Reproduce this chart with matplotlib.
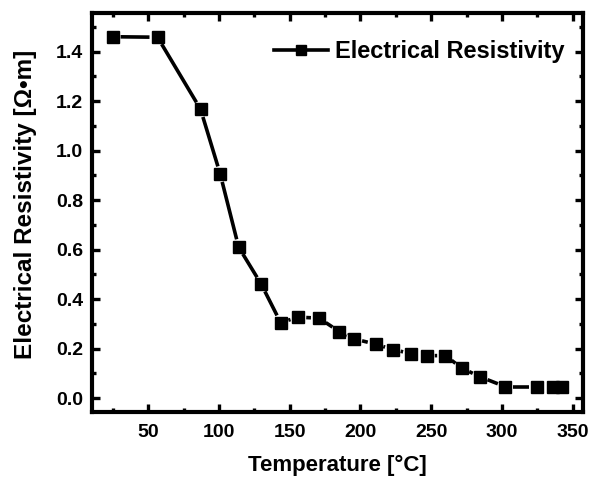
import matplotlib.pyplot as plt
import numpy as np
from matplotlib.collections import LineCollection
from matplotlib.ticker import MultipleLocator

plt.rcParams["font.family"] = ["Liberation Sans", "DejaVu Sans"]
plt.rcParams["font.weight"] = "bold"

# resistivity vs temperature
temperature = [24.8, 56.6, 87.0, 100.9, 113.9, 129.9, 143.6, 156.0, 170.7, 185.0, 195.6,
               210.7, 222.8, 235.7, 246.8, 259.9, 271.7, 284.5, 302.4, 324.6, 336.3, 342.2]
resistivity = [1.460, 1.458, 1.167, 0.905, 0.610, 0.460, 0.305, 0.327, 0.323, 0.269, 0.239,
               0.218, 0.196, 0.180, 0.171, 0.172, 0.121, 0.086, 0.046, 0.046, 0.046, 0.046]

SERIES = "Electrical Resistivity"
XTICKS = [50, 100, 150, 200, 250, 300, 350]
YTICKS = [0.0, 0.2, 0.4, 0.6, 0.8, 1.0, 1.2, 1.4]

MARKER_PT = 8
LW = 2.6
GAP_PX = 2.5


def gapped_segments(ax, xs, ys, cut_px):
    """Line pieces between neighbouring points, trimmed back from each marker."""
    pts = ax.transData.transform(np.column_stack([xs, ys]))
    segs = []
    for a, b in zip(pts[:-1], pts[1:]):
        d = b - a
        length = np.hypot(*d)
        if length <= 2 * cut_px:
            continue
        u = d / length
        segs.append([a + u * cut_px, b - u * cut_px])
    inv = ax.transData.inverted()
    return [inv.transform(np.array(s)) for s in segs]


fig = plt.figure(figsize=(5.91, 4.80), dpi=100)
ax = fig.add_axes([0.155, 0.1423, 0.832, 0.8312])
ax.set_xlim(10, 357.5)
ax.set_ylim(-0.055, 1.557)

cut = MARKER_PT * fig.dpi / 72 / 2 + GAP_PX
segs = gapped_segments(ax, temperature, resistivity, cut)
ax.add_collection(LineCollection(segs, colors="black", linewidths=LW, capstyle="butt"))
ax.plot(temperature, resistivity, linestyle="none", marker="s", ms=MARKER_PT,
        color="black", mec="black")

# proxy for the legend entry
ax.plot([], [], color="black", lw=LW, marker="s", ms=MARKER_PT * 0.85, label=SERIES)
ax.legend(loc="upper right", bbox_to_anchor=(1.005, 0.985), frameon=False,
          handlelength=2.3, handletextpad=0.3, fontsize=17)

ax.set_xticks(XTICKS)
ax.set_yticks(YTICKS)
ax.set_yticklabels([f"{v:.1f}" for v in YTICKS])
ax.xaxis.set_minor_locator(MultipleLocator(25))
ax.yaxis.set_minor_locator(MultipleLocator(0.1))
ax.tick_params(which="both", direction="in", top=True, right=True, width=2.4,
               labelsize=14)
ax.tick_params(which="major", length=5.5)
ax.tick_params(which="minor", length=3)
ax.tick_params(axis="x", pad=9)
ax.tick_params(axis="y", pad=6)
for s in ax.spines.values():
    s.set_linewidth(3)

ax.set_xlabel("Temperature [°C]", fontsize=16, fontweight="bold", labelpad=10)
ax.set_ylabel("Electrical Resistivity [Ω•m]", fontsize=17.5, fontweight="bold")
ax.yaxis.set_label_coords(-0.112, 0.52)

fig.savefig("out.png", dpi=100)
